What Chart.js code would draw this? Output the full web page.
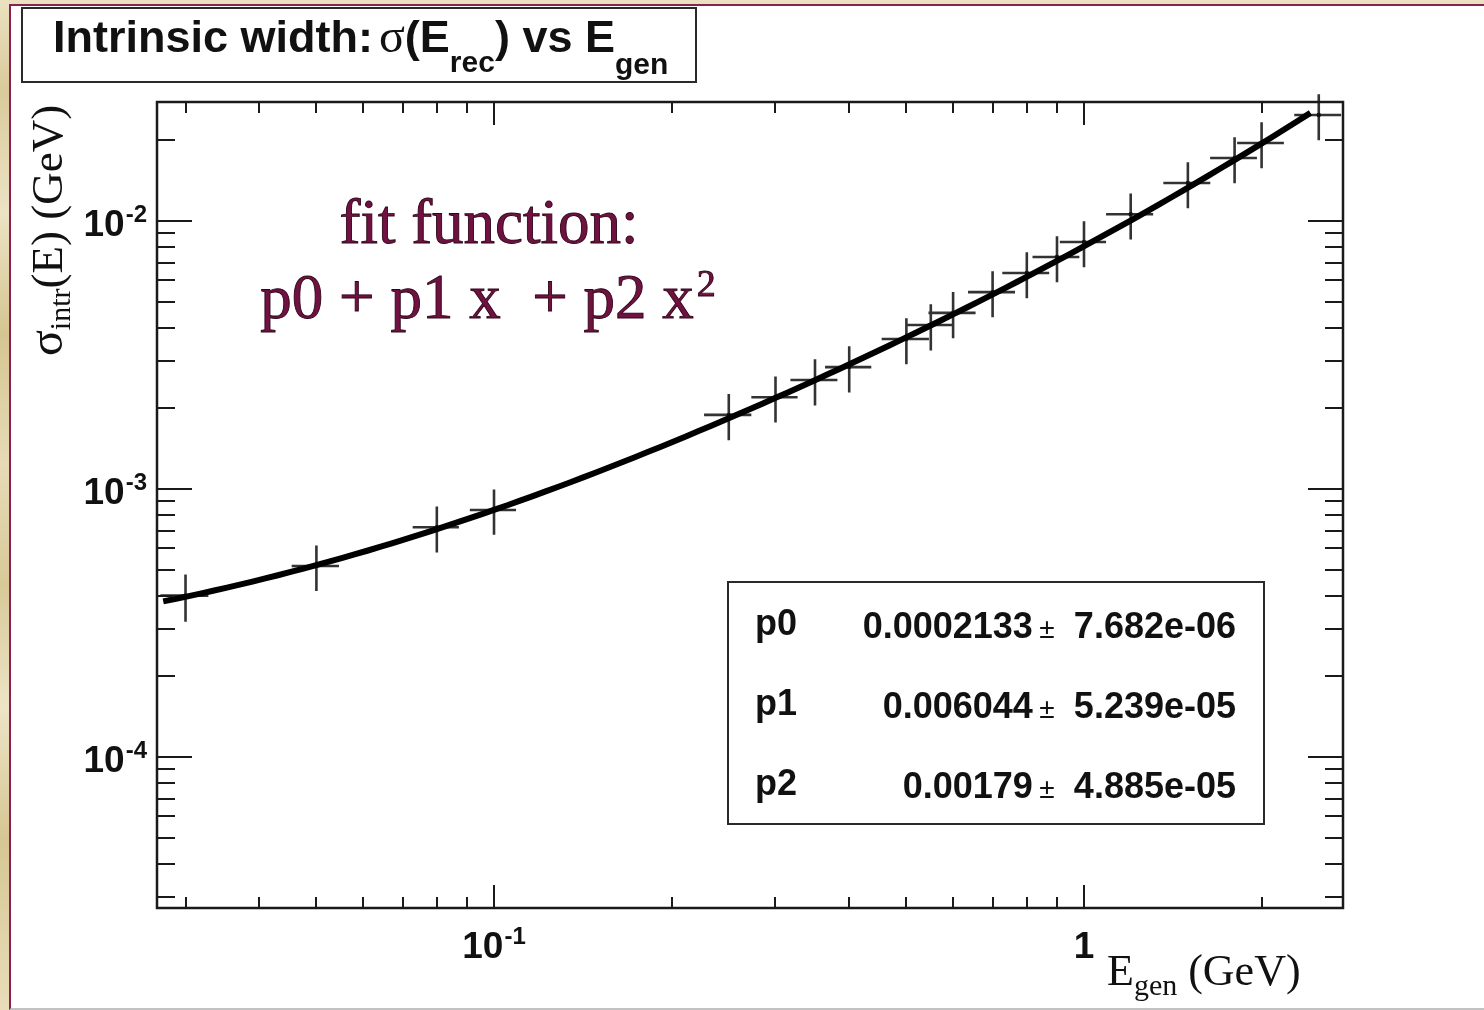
<!DOCTYPE html>
<html>
<head>
<meta charset="utf-8">
<title>Intrinsic width vs generated energy</title>
<script src="https://cdn.jsdelivr.net/npm/chart.js@4.4.0/dist/chart.umd.min.js"></script>
<style>
html, body { margin: 0; padding: 0; }
body {
  width: 1484px; height: 1010px; overflow: hidden; position: relative;
  background-color: #e0d3a6;
  background-image: linear-gradient(180deg, #ebe1c0 0%, #d9ca9a 9%, #ece3c4 21%, #d5c591 33%, #e6dbb6 46%, #d8c998 58%, #ede4c6 70%, #d6c693 83%, #e8ddb9 100%);
}
#slide {
  position: absolute; left: 9px; top: 4px; width: 1475px; height: 1006px;
  box-sizing: border-box; background: #fff;
  border-left: 2px solid #8b2150; border-top: 2px solid #8b2150; border-bottom: 2px solid #c2c2c2;
}
#plot { position: absolute; left: 0; top: 0; }
</style>
</head>
<body>
<div id="slide"></div>
<canvas id="plot" width="1484" height="1010"></canvas>
<script>
// measured points: generated energy (GeV) and intrinsic width sigma (GeV)
var energies = [0.03, 0.05, 0.08, 0.1, 0.25, 0.3, 0.35, 0.4, 0.5, 0.55, 0.6, 0.7, 0.8, 0.9, 1.0, 1.2, 1.5, 1.8, 2.0, 2.5];
var widths = [4.0e-4, 5.16e-4, 7.2e-4, 8.35e-4, 1.89e-3, 2.20e-3, 2.55e-3, 2.85e-3, 3.63e-3, 4.09e-3, 4.54e-3, 5.43e-3, 6.40e-3, 7.34e-3, 8.35e-3, 1.06e-2, 1.387e-2, 1.718e-2, 1.954e-2, 2.486e-2];
var energyErr = [0.0028, 0.0046, 0.0072, 0.009, 0.023, 0.027, 0.032, 0.036, 0.046, 0.05, 0.055, 0.064, 0.073, 0.082, 0.09, 0.11, 0.137, 0.164, 0.182, 0.228];
var widthErr = [0.8e-4, 1.0e-4, 1.4e-4, 1.6e-4, 3.7e-4, 4.3e-4, 5.0e-4, 5.6e-4, 7.1e-4, 8.0e-4, 8.9e-4, 1.06e-3, 1.25e-3, 1.43e-3, 1.63e-3, 2.07e-3, 2.7e-3, 3.35e-3, 3.8e-3, 4.85e-3];

// fit result p0 + p1 x + p2 x^2
var fitNames = ['p0', 'p1', 'p2'];
var fitParams = [0.0002133, 0.006044, 0.00179];
var fitValueText = ['0.0002133', '0.006044', '0.00179'];
var fitErrText = ['7.682e-06', '5.239e-05', '4.885e-05'];
var fitRange = [0.0275, 2.42];

// axis ranges and tick marks
var xRange = [0.02684, 2.748];
var yRange = [2.733e-5, 0.0278];
var xTickVals = [0.03, 0.04, 0.05, 0.06, 0.07, 0.08, 0.09, 0.1, 0.2, 0.3, 0.4, 0.5, 0.6, 0.7, 0.8, 0.9, 1, 2];
var yTickVals = [3e-5, 4e-5, 5e-5, 6e-5, 7e-5, 8e-5, 9e-5, 1e-4, 2e-4, 3e-4, 4e-4, 5e-4, 6e-4, 7e-4, 8e-4, 9e-4,
  1e-3, 2e-3, 3e-3, 4e-3, 5e-3, 6e-3, 7e-3, 8e-3, 9e-3, 1e-2, 2e-2];
var xLabelVals = [0.1, 1];
var xLabelText = [['10', '-1'], ['1', '']];
var yLabelVals = [1e-2, 1e-3, 1e-4];
var yLabelText = [['10', '-2'], ['10', '-3'], ['10', '-4']];

var SANS = '"Liberation Sans", Arial, Helvetica, sans-serif';
var SERIF = '"Liberation Serif", "Times New Roman", serif';

var points = energies.map(function(e, i){ return {x: e, y: widths[i]}; });

var fitCurve = [];
for (var i = 0; i <= 90; i++) {
  var e = fitRange[0] * Math.pow(fitRange[1] / fitRange[0], i / 90);
  fitCurve.push({x: e, y: fitParams[0] + fitParams[1] * e + fitParams[2] * e * e});
}

function isDecade(v) {
  var l = Math.log10(v);
  return Math.abs(l - Math.round(l)) < 1e-9;
}

// superscripted power label such as 10^-2
function powLabel(ctx, base, exp, x, y, align) {
  ctx.font = 'bold 37px ' + SANS;
  var wb = ctx.measureText(base).width;
  ctx.font = 'bold 24px ' + SANS;
  var we = exp ? ctx.measureText(exp).width + 1 : 0;
  var left = align === 'right' ? x - wb - we : x - (wb + we) / 2;
  ctx.textAlign = 'left';
  ctx.textBaseline = 'alphabetic';
  ctx.font = 'bold 37px ' + SANS;
  ctx.fillText(base, left, y);
  if (exp) {
    ctx.font = 'bold 24px ' + SANS;
    ctx.fillText(exp, left + wb + 1, y - 14);
  }
}

// run of text pieces with individual fonts and vertical shifts
function textRun(ctx, pieces, x, y) {
  ctx.textAlign = 'left';
  ctx.textBaseline = 'alphabetic';
  pieces.forEach(function(p){
    ctx.font = p.font;
    x += p.gap || 0;
    ctx.fillText(p.t, x, y + (p.dy || 0));
    x += ctx.measureText(p.t).width;
  });
}

var errorBars = {
  id: 'errorBars',
  beforeDatasetsDraw: function(chart) {
    var ctx = chart.ctx, xs = chart.scales.x, ys = chart.scales.y;
    ctx.save();
    ctx.strokeStyle = '#333';
    ctx.lineWidth = 2.6;
    ctx.beginPath();
    energies.forEach(function(e, i){
      var px = xs.getPixelForValue(e), py = ys.getPixelForValue(widths[i]);
      ctx.moveTo(xs.getPixelForValue(e - energyErr[i]), py);
      ctx.lineTo(Math.min(xs.getPixelForValue(e + energyErr[i]), chart.chartArea.right), py);
      ctx.moveTo(px, ys.getPixelForValue(widths[i] + widthErr[i]));
      ctx.lineTo(px, ys.getPixelForValue(widths[i] - widthErr[i]));
    });
    ctx.stroke();
    ctx.restore();
  }
};

var rootFrame = {
  id: 'rootFrame',
  afterDraw: function(chart) {
    var ctx = chart.ctx, a = chart.chartArea, xs = chart.scales.x, ys = chart.scales.y;
    ctx.save();
    ctx.fillStyle = '#111';
    ctx.strokeStyle = '#1a1a1a';

    // tick marks on all four sides
    ctx.lineWidth = 2;
    ctx.beginPath();
    xTickVals.forEach(function(v){
      var px = Math.round(xs.getPixelForValue(v));
      var len = isDecade(v) ? 23 : 11;
      ctx.moveTo(px, a.bottom); ctx.lineTo(px, a.bottom - len);
      ctx.moveTo(px, a.top); ctx.lineTo(px, a.top + len);
    });
    yTickVals.forEach(function(v){
      var py = Math.round(ys.getPixelForValue(v));
      var len = isDecade(v) ? 35 : 18;
      ctx.moveTo(a.left, py); ctx.lineTo(a.left + len, py);
      ctx.moveTo(a.right, py); ctx.lineTo(a.right - len, py);
    });
    ctx.stroke();
    ctx.lineWidth = 2.5;
    ctx.strokeRect(a.left, a.top, a.right - a.left, a.bottom - a.top);

    // decade labels
    xLabelVals.forEach(function(v, i){
      powLabel(ctx, xLabelText[i][0], xLabelText[i][1], xs.getPixelForValue(v), 958, 'center');
    });
    yLabelVals.forEach(function(v, i){
      powLabel(ctx, yLabelText[i][0], yLabelText[i][1], 147, ys.getPixelForValue(v) + 15, 'right');
    });

    // axis titles
    textRun(ctx, [
      {t: 'E', font: '44px ' + SERIF},
      {t: 'gen', font: '30px ' + SERIF, dy: 10},
      {t: ' (GeV)', font: '44px ' + SERIF}
    ], 1107, 985);
    ctx.save();
    ctx.translate(62, 356);
    ctx.rotate(-Math.PI / 2);
    textRun(ctx, [
      {t: 'σ', font: '48px ' + SERIF},
      {t: 'intr', font: '30px ' + SERIF, dy: 8},
      {t: '(E) (GeV)', font: '45px ' + SERIF}
    ], 0, 0);
    ctx.restore();

    // title box
    ctx.fillStyle = '#fff';
    ctx.fillRect(22, 8, 674, 74);
    ctx.lineWidth = 2;
    ctx.strokeStyle = '#2a2a2a';
    ctx.strokeRect(22, 8, 674, 74);
    ctx.fillStyle = '#111';
    textRun(ctx, [
      {t: 'Intrinsic width:', font: 'bold 45px ' + SANS},
      {t: 'σ', font: '48px ' + SERIF, gap: 6},
      {t: '(E', font: 'bold 45px ' + SANS},
      {t: 'rec', font: 'bold 30px ' + SANS, dy: 20},
      {t: ')', font: 'bold 45px ' + SANS},
      {t: ' vs E', font: 'bold 45px ' + SANS},
      {t: 'gen', font: 'bold 30px ' + SANS, dy: 22}
    ], 53, 52);

    // fit parameter box
    ctx.fillStyle = '#fff';
    ctx.fillRect(728, 582, 536, 242);
    ctx.strokeRect(728, 582, 536, 242);
    ctx.fillStyle = '#111';
    fitNames.forEach(function(n, i){
      var base = 638 + i * 80;
      ctx.textAlign = 'left';
      ctx.font = 'bold 36px ' + SANS;
      ctx.fillText(n, 755, base - 3);
      ctx.textAlign = 'right';
      ctx.fillText(fitErrText[i], 1236, base);
      var errStart = 1236 - ctx.measureText(fitErrText[i]).width;
      ctx.fillText(fitValueText[i], errStart - 41, base);
      ctx.font = '28px ' + SANS;
      ctx.textAlign = 'center';
      ctx.fillText('±', errStart - 27, base);
    });

    // fit function note
    ctx.textAlign = 'center';
    ctx.fillStyle = '#6f1241';
    ctx.strokeStyle = '#2e0517';
    ctx.lineWidth = 0.9;
    ctx.font = '63px ' + SERIF;
    ctx.fillText('fit function:', 489, 243);
    ctx.strokeText('fit function:', 489, 243);
    var line2 = 'p0 + p1 x  + p2 x';
    var w2 = ctx.measureText(line2).width;
    ctx.font = '38px ' + SERIF;
    var ws = ctx.measureText('2').width;
    var x0 = 488 - (w2 + ws + 3) / 2;
    ctx.textAlign = 'left';
    ctx.font = '63px ' + SERIF;
    ctx.fillText(line2, x0, 318);
    ctx.strokeText(line2, x0, 318);
    ctx.font = '38px ' + SERIF;
    ctx.fillText('2', x0 + w2 + 3, 296);
    ctx.strokeText('2', x0 + w2 + 3, 296);
    ctx.restore();
  }
};

var ctx = document.getElementById('plot').getContext('2d');
var chart = new Chart(ctx, {
  type: 'scatter',
  data: {
    datasets: [{
      type: 'line',
      label: 'fit',
      data: fitCurve,
      borderColor: '#000',
      borderWidth: 6,
      pointRadius: 0,
      fill: false,
      tension: 0,
      order: 0
    }, {
      label: 'sigma',
      data: points,
      pointRadius: 2.2,
      backgroundColor: '#111',
      borderWidth: 0,
      order: 1
    }]
  },
  options: {
    responsive: false,
    animation: false,
    layout: { padding: { top: 102, right: 141, left: 0, bottom: 0 } },
    plugins: { legend: { display: false }, tooltip: { enabled: false } },
    scales: {
      x: {
        type: 'logarithmic', min: xRange[0], max: xRange[1],
        grid: { display: false }, border: { display: false },
        ticks: { display: false },
        afterBuildTicks: function(s){ s.ticks = xTickVals.map(function(v){ return {value: v}; }); },
        afterFit: function(s){ s.height = 102; }
      },
      y: {
        type: 'logarithmic', min: yRange[0], max: yRange[1],
        grid: { display: false }, border: { display: false },
        ticks: { display: false },
        afterBuildTicks: function(s){ s.ticks = yTickVals.map(function(v){ return {value: v}; }); },
        afterFit: function(s){ s.width = 157; }
      }
    }
  },
  plugins: [errorBars, rootFrame]
});
</script>
</body>
</html>
